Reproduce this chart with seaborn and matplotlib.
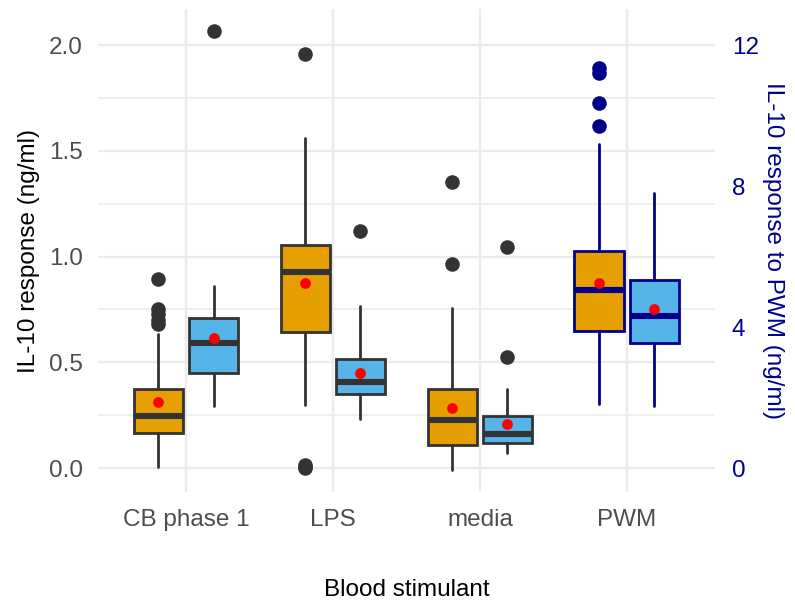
import matplotlib
matplotlib.use("Agg")
import matplotlib.pyplot as plt
from matplotlib.ticker import MultipleLocator
import pandas as pd
import seaborn as sns

# ---- data: IL-10 box summaries per blood stimulant and group ----
stimulants = ["CB phase 1", "LPS", "media", "PWM"]
groups = ["group 1", "group 2"]
group_colors = ["#E69F00", "#56B4E9"]

# order: (CB phase 1, LPS, media) x (group 1, group 2) on the left axis, ng/ml
left_whislo = [0.006, 0.295, 0.298, 0.230, -0.010, 0.069]
left_q1 = [0.167, 0.448, 0.641, 0.350, 0.109, 0.120]
left_med = [0.247, 0.590, 0.928, 0.408, 0.227, 0.159]
left_q3 = [0.372, 0.708, 1.057, 0.517, 0.372, 0.247]
left_whishi = [0.634, 0.862, 1.559, 0.766, 0.755, 0.372]
left_mean = [0.311, 0.613, 0.876, 0.448, 0.285, 0.207]
left_outliers = [
    [0.68, 0.70, 0.73, 0.75, 0.892],
    [2.068],
    [0.0, 0.006, 0.013, 1.956],
    [1.122],
    [0.965, 1.351],
    [0.526, 1.043],
]

# PWM (group 1, group 2) on the secondary axis, ng/ml
pwm_whislo = [1.82, 1.77]
pwm_q1 = [3.90, 3.56]
pwm_med = [5.05, 4.32]
pwm_q3 = [6.16, 5.33]
pwm_whishi = [9.18, 7.79]
pwm_mean = [5.24, 4.52]
pwm_outliers = [[9.70, 10.35, 11.20, 11.34], []]

right_ticks = [0, 4, 8, 12]
pwm_scale = 6.0

# ---- styling ----
sns.set_theme(style="whitegrid")
plt.rcParams["font.family"] = ["Liberation Sans", "DejaVu Sans"]

grey20 = "#333333"
navy = "#00008B"
tick_grey = "#4D4D4D"
grid_col = "#EBEBEB"
fs = 17.5

fig = plt.figure(figsize=(7.95, 6.06), dpi=100)
ax = fig.add_axes([0.123, 0.188, 0.7764, 0.797])
ax2 = ax.twinx()

dodge = 0.1875
width = 0.3375


def positions_for(n_cat):
    pos = []
    for i in range(n_cat):
        for j in range(len(groups)):
            pos.append(i + 1 + (j - 0.5) * 2 * dodge)
    return pos


def draw_boxes(axis, whislo, q1, med, q3, whishi, fliers, pos, edge):
    stats = []
    for k in range(len(med)):
        stats.append(dict(whislo=whislo[k], q1=q1[k], med=med[k], q3=q3[k],
                          whishi=whishi[k], fliers=fliers[k]))
    art = axis.bxp(
        stats, positions=pos, widths=width, patch_artist=True,
        showcaps=False, showfliers=True, manage_ticks=False,
        boxprops=dict(edgecolor=edge, linewidth=2.0),
        medianprops=dict(color=edge, linewidth=4.4, solid_capstyle="butt"),
        whiskerprops=dict(color=edge, linewidth=2.0),
        flierprops=dict(marker="o", markerfacecolor=edge, markeredgecolor="none",
                        markersize=10.5),
        zorder=3,
    )
    for k, patch in enumerate(art["boxes"]):
        patch.set_facecolor(group_colors[k % len(groups)])
    return art


left_pos = positions_for(3)
pwm_pos = positions_for(4)[6:]

draw_boxes(ax, left_whislo, left_q1, left_med, left_q3, left_whishi,
           left_outliers, left_pos, grey20)
draw_boxes(ax2, pwm_whislo, pwm_q1, pwm_med, pwm_q3, pwm_whishi,
           pwm_outliers, pwm_pos, navy)

# group means as red dots
left_means_df = pd.DataFrame({"pos": left_pos, "mean": left_mean})
pwm_means_df = pd.DataFrame({"pos": pwm_pos, "mean": pwm_mean})
sns.scatterplot(data=left_means_df, x="pos", y="mean", color="red", s=60,
                linewidth=0, zorder=5, ax=ax, legend=False)
sns.scatterplot(data=pwm_means_df, x="pos", y="mean", color="red", s=60,
                linewidth=0, zorder=5, ax=ax2, legend=False)

# ---- axes ----
y_lo, y_hi = -0.1135, 2.170
ax.set_ylim(y_lo, y_hi)
ax2.set_ylim(y_lo * pwm_scale, y_hi * pwm_scale)
ax.set_xlim(0.4, 4.6)

ax.set_xticks(range(1, len(stimulants) + 1))
ax.set_xticklabels(stimulants)
ax.set_yticks([0.0, 0.5, 1.0, 1.5, 2.0])
ax.set_yticklabels(["0.0", "0.5", "1.0", "1.5", "2.0"])
ax.yaxis.set_minor_locator(MultipleLocator(0.25))

ax.grid(False)
ax.grid(True, which="major", axis="both", color=grid_col, linewidth=1.7)
ax.grid(True, which="minor", axis="y", color=grid_col, linewidth=1.1)
ax.set_axisbelow(True)
ax.set_facecolor("white")

ax.tick_params(axis="both", which="both", length=0, labelsize=fs,
               labelcolor=tick_grey)
ax.tick_params(axis="x", pad=12)
ax.tick_params(axis="y", pad=11)

ax2.set_yticks(right_ticks)
ax2.set_yticklabels([str(t) for t in right_ticks])
ax2.grid(False)
ax2.tick_params(axis="y", length=0, labelsize=fs, labelcolor=navy, pad=12)

for a in (ax, ax2):
    for s in a.spines.values():
        s.set_visible(False)

ax.set_xlabel("Blood stimulant", fontsize=fs, color="black", labelpad=35)
ax.set_ylabel("IL-10 response (ng/ml)", fontsize=fs, color="black", labelpad=6)
ax2.set_ylabel("IL-10 response to PWM (ng/ml)", fontsize=fs, color=navy,
               rotation=270, labelpad=18)
ax2.set_xlabel("")

fig.savefig("out.png", dpi=100, facecolor="white")
